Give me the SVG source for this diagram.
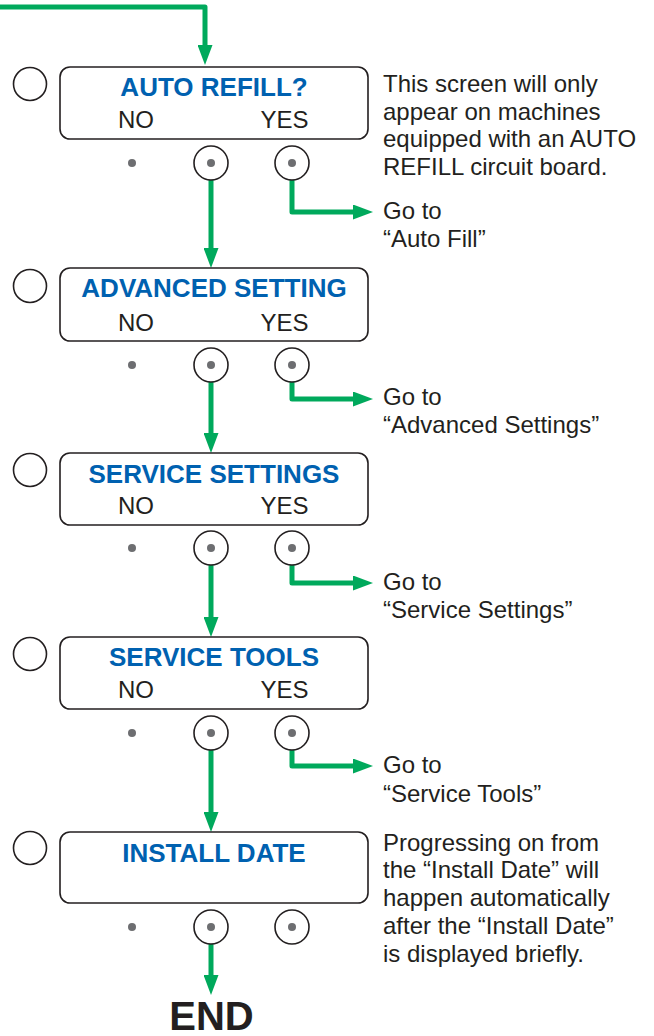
<svg xmlns="http://www.w3.org/2000/svg" width="654" height="1036" viewBox="0 0 654 1036">
  <style>
    .screen { fill: #ffffff; stroke: #231f20; stroke-width: 1.6; }
    .key { fill: none; stroke: #231f20; stroke-width: 1.6; }
    .dot { fill: #6d6e71; }
    .title { font-family: "Liberation Sans", Arial, sans-serif; font-weight: bold; font-size: 26px; fill: #0061b0; text-anchor: middle; }
    .opt { font-family: "Liberation Sans", Arial, sans-serif; font-size: 24px; fill: #231f20; text-anchor: middle; }
    .note { font-family: "Liberation Sans", Arial, sans-serif; font-size: 24px; fill: #231f20; }
    .end { font-family: "Liberation Sans", Arial, sans-serif; font-weight: bold; font-size: 40px; fill: #231f20; text-anchor: middle; }
    .flow { fill: none; stroke: #00a95c; stroke-width: 5; stroke-linejoin: round; marker-end: url(#head); }
  </style>
  <defs>
    <marker id="head" markerUnits="userSpaceOnUse" markerWidth="20" markerHeight="15" refX="0" refY="7.5" orient="auto">
      <path d="M0,0 L20,7.5 L0,15 Z" fill="#00a95c"/>
    </marker>
    <!-- one row of keys under a screen: plain dot, NO key, YES key -->
    <g id="keys">
      <circle class="dot" cx="132" cy="0" r="4"/>
      <circle class="key" cx="211" cy="0" r="17"/>
      <circle class="dot" cx="211" cy="0" r="4"/>
      <circle class="key" cx="292" cy="0" r="17"/>
      <circle class="dot" cx="292" cy="0" r="4"/>
    </g>
  </defs>

  <!-- connectors -->
  <g id="connectors">
    <path class="flow" d="M0,7 H205 V45"/>
    <path class="flow" d="M211,180 V248"/>
    <path class="flow" d="M211,382 V433"/>
    <path class="flow" d="M211,565 V617"/>
    <path class="flow" d="M211,750 V812"/>
    <path class="flow" d="M211,944 V975"/>
    <path class="flow" d="M292,180 V212 H353"/>
    <path class="flow" d="M292,382 V399 H353"/>
    <path class="flow" d="M292,565 V583 H353"/>
    <path class="flow" d="M292,750 V766 H353"/>
  </g>

  <g id="auto-refill">
    <circle class="key" cx="30" cy="84" r="16.5"/>
    <rect class="screen" x="60" y="67" width="308" height="72" rx="10"/>
    <text class="title" x="214" y="96">AUTO REFILL?</text>
    <text class="opt" x="136" y="128">NO</text>
    <text class="opt" x="284.5" y="128">YES</text>
    <use href="#keys" y="163"/>
  </g>
  <g id="auto-refill-note">
    <text class="note" x="383" y="92">This screen will only</text>
    <text class="note" x="383" y="120">appear on machines</text>
    <text class="note" x="383" y="147">equipped with an AUTO</text>
    <text class="note" x="383" y="175">REFILL circuit board.</text>
  </g>
  <g id="goto-auto-fill">
    <text class="note" x="383" y="219">Go to</text>
    <text class="note" x="383" y="247">“Auto Fill”</text>
  </g>

  <g id="advanced-setting">
    <circle class="key" cx="30" cy="286" r="16.5"/>
    <rect class="screen" x="60" y="268" width="308" height="73" rx="10"/>
    <text class="title" x="214" y="297">ADVANCED SETTING</text>
    <text class="opt" x="136" y="331">NO</text>
    <text class="opt" x="284.5" y="331">YES</text>
    <use href="#keys" y="365"/>
  </g>
  <g id="goto-advanced-settings">
    <text class="note" x="383" y="405">Go to</text>
    <text class="note" x="383" y="433">“Advanced Settings”</text>
  </g>

  <g id="service-settings">
    <circle class="key" cx="30" cy="470" r="16.5"/>
    <rect class="screen" x="60" y="453" width="308" height="72" rx="10"/>
    <text class="title" x="214" y="483">SERVICE SETTINGS</text>
    <text class="opt" x="136" y="514">NO</text>
    <text class="opt" x="284.5" y="514">YES</text>
    <use href="#keys" y="548"/>
  </g>
  <g id="goto-service-settings">
    <text class="note" x="383" y="590">Go to</text>
    <text class="note" x="383" y="618">“Service Settings”</text>
  </g>

  <g id="service-tools">
    <circle class="key" cx="30" cy="654" r="16.5"/>
    <rect class="screen" x="60" y="637" width="308" height="72" rx="10"/>
    <text class="title" x="214" y="666">SERVICE TOOLS</text>
    <text class="opt" x="136" y="698">NO</text>
    <text class="opt" x="284.5" y="698">YES</text>
    <use href="#keys" y="733"/>
  </g>
  <g id="goto-service-tools">
    <text class="note" x="383" y="773">Go to</text>
    <text class="note" x="383" y="802">“Service Tools”</text>
  </g>

  <g id="install-date">
    <circle class="key" cx="30" cy="848" r="16.5"/>
    <rect class="screen" x="60" y="832" width="308" height="71" rx="10"/>
    <text class="title" x="214" y="862">INSTALL DATE</text>
    <use href="#keys" y="927"/>
  </g>
  <g id="install-date-note">
    <text class="note" x="383" y="851">Progressing on from</text>
    <text class="note" x="383" y="878">the “Install Date” will</text>
    <text class="note" x="383" y="906">happen automatically</text>
    <text class="note" x="383" y="934">after the “Install Date”</text>
    <text class="note" x="383" y="962">is displayed briefly.</text>
  </g>

  <g id="end">
    <text class="end" x="211.5" y="1030">END</text>
  </g>
</svg>
